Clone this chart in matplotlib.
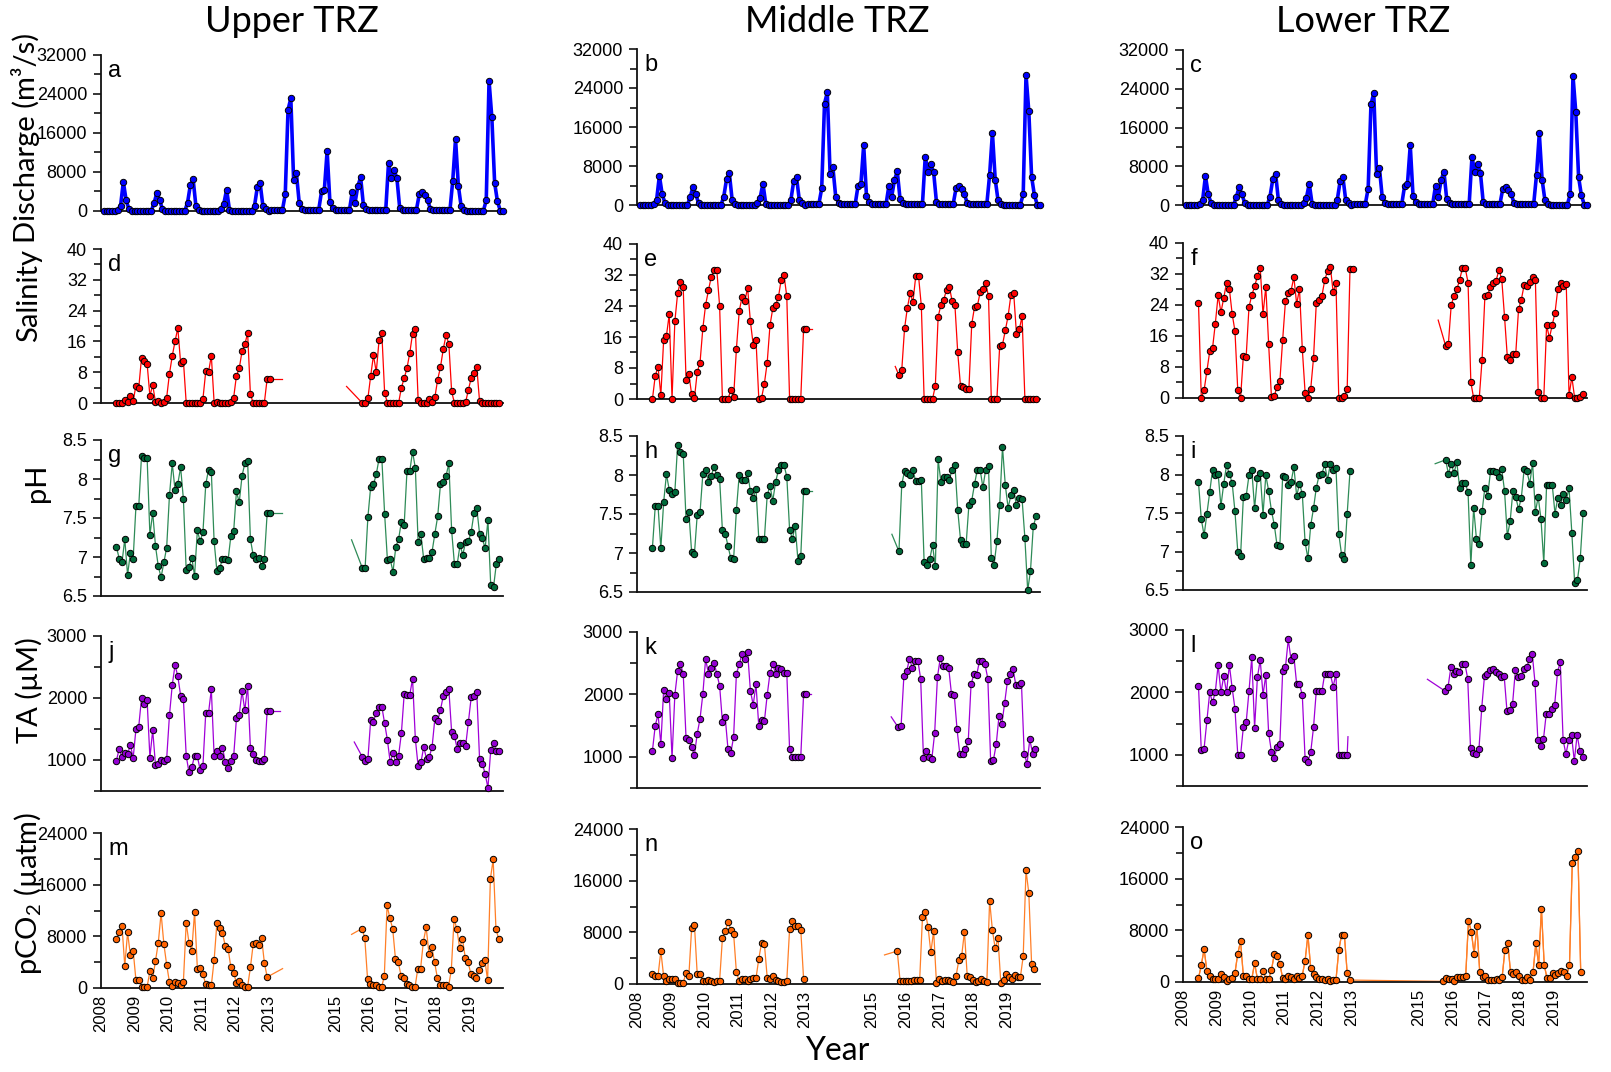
import numpy as np
import matplotlib
matplotlib.use('Agg')
import matplotlib.pyplot as plt
from matplotlib.ticker import MultipleLocator, FuncFormatter

plt.rcParams['font.family'] = ['Lato', 'DejaVu Sans']
plt.rcParams['mathtext.default'] = 'regular'

# ---------------- DATA ----------------
# monthly discharge (m3/s), Jan 2008 - Dec 2019 (same in all three columns)
discharge = (
    [0, 0, 0, 0, 100, 300, 1000, 6000, 2200, 400, 100, 0] +            # 2008
    [0, 0, 0, 0, 0, 0, 1600, 3700, 2200, 400, 100, 0] +                # 2009
    [0, 0, 0, 0, 0, 0, 1700, 5300, 6500, 1000, 300, 0] +               # 2010
    [0, 0, 0, 0, 0, 0, 500, 1500, 4400, 300, 100, 0] +                 # 2011
    [0, 0, 0, 0, 0, 0, 1100, 4900, 5700, 1000, 500, 100] +             # 2012
    [250, 250, 250, 250, 250, 3400, 20800, 23100, 6300, 7700, 1700, 500] +  # 2013
    [300, 300, 300, 300, 300, 300, 4000, 4300, 12300, 1800, 600, 300] +     # 2014
    [200, 200, 200, 200, 200, 3900, 1700, 5100, 6900, 1200, 500, 300] +     # 2015
    [300, 300, 300, 300, 200, 200, 9900, 6800, 8400, 6700, 600, 300] +      # 2016
    [300, 300, 300, 300, 300, 3400, 3800, 3200, 2200, 400, 300, 300] +      # 2017
    [300, 300, 300, 300, 200, 6200, 14800, 5200, 1000, 300, 0, 0] +         # 2018
    [0, 0, 0, 0, 100, 2200, 26700, 19200, 5800, 2000, 100, 0]               # 2019
)
discharge_start = 2008 + 1 / 12

# Salinity
sal_upper_1 = [0, 0, 0.1, 0.8, 0.2, 1.7, 0.5, 4.5, 3.9, 11.8, 11, 10.2, 1.8, 4.7, 0.2, 0.4, 0.1, 0.2, 1.4, 7.6,
               12.2, 16, 19.5, 10.4, 11, 0, 0, 0, 0, 0, 0, 1.1, 8.2, 8, 12.3, 0.1, 0.3, 0.1, 0, 0,
               0.1, 0.2, 1.4, 7.1, 9, 13.4, 15.2, 18.2, 2.3, 0, 0, 0, 0, 0.1, 6.3, 6.3]
sal_upper_2 = [0, 0, 1.2, 7, 12.4, 8, 16.3, 18.1, 2.6, 0, 0, 0, 0, 0, 4, 6.4, 9, 13, 18, 19.3,
               0.8, 0.1, 0, 0.1, 1, 0.2, 1.5, 6.1, 9.3, 14, 17.6, 15.4, 3, 0, 0, 0, 0.1, 0.2, 3.4, 6.5,
               7.8, 9.3, 0.5, 0, 0, 0, 0, 0, 0, 0]
sal_middle_1 = [0, 6, 8.3, 1, 15.2, 16.3, 21.9, 0, 20, 27.3, 30.3, 28.8, 5, 6.5, 1.2, 0.2, 6.9, 9.4, 18.2, 24.3,
                28, 31.5, 33.2, 33.2, 24, 0, 0, 0, 2.3, 0.4, 12.9, 22.6, 26.3, 25.2, 28.7, 20, 14, 15.2, 0.1, 0.3,
                4, 9.4, 19, 23.4, 24.3, 26.2, 30.8, 32, 26.5, 0, 0, 0, 0, 0.1, 18, 18]
sal_middle_2 = [6.1, 7.4, 18.2, 23.5, 27.3, 25, 31.7, 31.7, 24, 0, 0, 0, 0, 3.4, 21.2, 24.3, 25.6, 28.2, 29, 25.3,
                24.2, 12, 3.3, 3, 2.6, 2.6, 19.3, 23.7, 23.9, 27.5, 28.5, 30, 26.5, 0, 0, 0, 13.8, 14, 17.7, 21.4,
                26.8, 27.3, 16.7, 18, 21.3, 0, 0, 0, 0, 0]
sal_lower_1 = [24.6, 0, 2, 7, 12, 12.8, 19.2, 26.5, 22.1, 25.8, 29.8, 28.2, 21.7, 17.3, 2, 0, 10.9, 10.7, 23.5, 26.5,
               28.8, 31.4, 33.6, 21.6, 28.7, 14, 0.3, 0.5, 2.9, 4.3, 15, 25, 27, 27.7, 31.2, 24.2, 28.2, 12.7, 1.4, 0,
               2.3, 10.3, 24.6, 25.4, 26.4, 30.4, 32.8, 33.9, 27.3, 29.7, 0, 0.1, 0.6, 2.3, 33.3, 33.3]
sal_lower_2 = [13.5, 14, 24, 26.3, 28, 30.5, 33.5, 33.5, 29.8, 4, 0, 0, 0, 9.9, 26.2, 26.6, 28.7, 29.6, 30.3, 33,
               30.8, 21, 10.6, 9.9, 11.4, 11.4, 22.9, 25.4, 29.2, 28.8, 30, 31.3, 30.5, 1.5, 0, 0, 18.8, 15.5, 18.8, 22,
               28.2, 29.6, 29, 29.5, 0.7, 5.4, 0, 0, 0.2, 1]

# pH
ph_upper_1 = [7.13, 6.98, 6.93, 7.23, 6.77, 7.05, 6.98, 7.65, 7.65, 8.3, 8.27, 8.27, 7.28, 7.57, 7.14, 6.88, 6.74, 6.93, 7.12, 7.79,
              8.2, 7.86, 7.94, 8.15, 7.74, 6.83, 6.87, 6.99, 6.76, 7.34, 7.2, 7.32, 7.93, 8.12, 8.09, 7.2, 6.82, 6.86, 6.97, 6.98,
              6.96, 7.27, 7.33, 7.84, 7.7, 8.04, 8.2, 8.23, 7.23, 7.02, 6.97, 6.99, 6.88, 6.98, 7.56, 7.56]
ph_upper_2 = [6.86, 6.86, 7.51, 7.9, 7.93, 8.06, 8.26, 8.26, 7.55, 6.96, 6.97, 6.81, 7.13, 7.23, 7.45, 7.41, 8.1, 8.1, 8.35, 8.14,
              7.19, 7.29, 6.97, 6.99, 6.99, 7.07, 7.3, 7.52, 7.93, 7.96, 8.04, 8.2, 7.34, 6.91, 6.91, 7.15, 7.03, 7.19, 7.2, 7.32,
              7.56, 7.63, 7.3, 7.24, 7.11, 7.47, 6.64, 6.61, 6.91, 6.97]
ph_middle_1 = [7.07, 7.6, 7.6, 7.06, 7.65, 8.01, 7.81, 7.76, 7.78, 8.39, 8.29, 8.27, 7.43, 7.53, 7.01, 6.99, 7.49, 7.52, 8.01, 8.07,
               7.91, 7.99, 8.1, 8.0, 7.95, 7.29, 7.25, 7.09, 6.93, 6.92, 7.55, 8.0, 7.94, 7.93, 8.03, 7.79, 7.71, 7.82, 7.18, 7.18,
               7.18, 7.74, 7.86, 7.67, 7.91, 8.06, 8.13, 8.13, 7.98, 7.3, 7.18, 7.35, 6.9, 6.96, 7.79, 7.79]
ph_middle_2 = [7.02, 7.88, 8.05, 8.03, 8.0, 8.06, 7.92, 7.92, 7.93, 6.88, 6.84, 6.92, 7.1, 6.83, 8.2, 7.91, 7.97, 7.97, 7.94, 8.07,
               8.13, 7.55, 7.17, 7.12, 7.11, 7.62, 7.67, 7.88, 8.07, 8.07, 7.84, 8.07, 8.11, 6.94, 6.85, 7.15, 7.62, 8.36, 7.87, 7.58,
               7.74, 7.81, 7.61, 7.7, 7.69, 7.19, 6.52, 6.77, 7.34, 7.47]
ph_lower_1 = [7.9, 7.42, 7.21, 7.49, 7.77, 8.06, 8.0, 8.01, 7.59, 7.88, 8.12, 8.01, 7.89, 7.52, 7.0, 6.94, 7.71, 7.72, 7.99, 8.06,
              7.56, 7.96, 8.02, 7.48, 7.99, 7.79, 7.53, 7.35, 7.08, 7.07, 7.98, 7.97, 7.87, 7.9, 8.1, 7.72, 7.88, 7.75, 7.12, 6.91,
              7.34, 7.56, 7.83, 7.99, 8.01, 8.13, 7.93, 8.14, 8.06, 8.09, 7.23, 6.96, 6.9, 7.49, 8.04]
ph_lower_2 = [8.19, 8.01, 8.14, 8.02, 8.16, 7.83, 7.89, 7.89, 7.77, 6.82, 7.57, 7.16, 7.1, 7.52, 7.83, 7.72, 8.04, 8.04, 8.03, 7.97,
              8.07, 7.79, 7.2, 7.39, 7.79, 7.71, 7.55, 7.7, 8.07, 8.04, 7.88, 8.15, 7.51, 7.71, 7.42, 6.85, 7.87, 7.86, 7.87, 7.49,
              7.7, 7.61, 7.75, 7.67, 7.82, 7.24, 6.59, 6.63, 6.91, 7.5]

# Total alkalinity (uM)
ta_upper_1 = [990, 1180, 1050, 1110, 1090, 1250, 1030, 1500, 1540, 2000, 1900, 1960, 1040, 1480, 920, 930, 1000, 980, 1020, 1720,
              2210, 2530, 2350, 2040, 1980, 1070, 800, 880, 1070, 1060, 840, 910, 1760, 1760, 2140, 1070, 1140, 1060, 1200, 970,
              870, 990, 1060, 1670, 1730, 2110, 1800, 2200, 1200, 1100, 1000, 990, 980, 1020, 1790, 1790]
ta_upper_2 = [1050, 980, 1010, 1640, 1620, 1760, 1860, 1860, 1590, 1320, 960, 1110, 960, 1070, 1430, 2060, 2050, 2050, 2310, 1340,
              900, 960, 1210, 1020, 1050, 1210, 1670, 1630, 1810, 2030, 2100, 2140, 1450, 1390, 1180, 1280, 1280, 1220, 1610, 2010,
              2040, 2100, 1020, 940, 780, 550, 1160, 1270, 1150, 1140]
ta_middle_1 = [1100, 1500, 1680, 1200, 2070, 1920, 2020, 980, 1990, 2380, 2490, 2330, 1300, 1270, 1150, 1030, 1370, 1610, 2000, 2570,
               2330, 2420, 2510, 2330, 2140, 1560, 1630, 1120, 1060, 1320, 2330, 2480, 2650, 2570, 2680, 2060, 1830, 2160, 1490, 1590,
               1570, 1990, 2340, 2480, 2330, 2430, 2400, 2350, 2350, 1120, 990, 990, 1000, 1000, 2000, 2000]
ta_middle_2 = [1470, 1490, 2290, 2370, 2570, 2430, 2540, 2540, 2250, 980, 1100, 990, 970, 1380, 2280, 2580, 2450, 2450, 2430, 2010,
               1990, 1440, 1040, 1050, 1120, 1250, 2160, 2320, 2310, 2530, 2530, 2480, 2250, 940, 950, 1200, 1660, 1520, 1860, 2210,
               2330, 2410, 2150, 2150, 2190, 1050, 890, 1280, 1050, 1120]
ta_lower_1 = [2100, 1070, 1100, 1550, 2000, 1840, 2010, 2440, 2000, 2260, 2000, 2440, 2070, 1740, 1000, 990, 1450, 1520, 2020, 2570,
              1430, 2240, 2520, 1960, 2280, 1350, 1050, 950, 1120, 1170, 2340, 2400, 2850, 2520, 2580, 2130, 2130, 1960, 940, 890,
              1040, 1440, 2030, 2020, 2020, 2300, 2300, 2300, 2090, 2300, 990, 990, 1000, 1000]
ta_lower_2 = [2020, 2090, 2400, 2290, 2340, 2320, 2460, 2460, 2220, 1110, 1030, 1010, 1090, 1750, 2270, 2290, 2360, 2370, 2320, 2300,
              2240, 2260, 1700, 1710, 1820, 2360, 2250, 2260, 2380, 2400, 2530, 2620, 2150, 1240, 1140, 1250, 1660, 1650, 1730, 1800,
              2320, 2490, 1240, 1010, 1230, 1310, 900, 1320, 1060, 960]

# pCO2 (uatm)
pco2_upper_1 = [7600, 8600, 9600, 3400, 8600, 5100, 5800, 1200, 1300, 200, 200, 200, 2600, 1500, 4200, 7000, 11600, 6800, 3600, 900,
                300, 900, 700, 400, 1000, 10100, 7000, 5800, 11800, 3000, 3100, 2100, 600, 400, 400, 4300, 10100, 9300, 8500, 6500,
                6100, 3200, 2300, 800, 1100, 400, 200, 200, 3200, 6800, 7000, 6600, 7800, 3900, 1700]
pco2_upper_2 = [9200, 7800, 1400, 600, 400, 400, 200, 100, 1800, 12800, 10800, 9200, 4500, 4000, 1900, 1500, 600, 500, 100, 100,
                3000, 3000, 7200, 9400, 5300, 6400, 4000, 1600, 500, 500, 400, 200, 2800, 10700, 9100, 6200, 7600, 4700, 4000, 2200,
                1800, 1500, 2800, 3800, 4400, 1200, 16900, 19900, 9100, 7600]
pco2_middle_1 = [1500, 1300, 1300, 5100, 1200, 400, 800, 800, 800, 200, 200, 200, 1700, 1200, 8600, 9200, 1500, 1500, 400, 400,
                 600, 400, 300, 400, 500, 7100, 8200, 9600, 8400, 7800, 1800, 500, 700, 700, 500, 800, 1000, 900, 3900, 6400,
                 6200, 1000, 800, 1300, 600, 400, 300, 300, 500, 8500, 9700, 9000, 9000, 8400, 800]
pco2_middle_2 = [5100, 500, 400, 400, 500, 400, 600, 600, 600, 10300, 11200, 8800, 4900, 8200, 200, 700, 500, 600, 600, 400,
                 300, 1200, 3700, 4300, 8100, 1200, 1100, 600, 300, 400, 800, 400, 300, 12900, 8300, 5500, 7100, 100, 600, 1500,
                 1100, 800, 1400, 1100, 1100, 4300, 17600, 14100, 3100, 2300]
pco2_lower_1 = [600, 2600, 5100, 1700, 1000, 400, 400, 500, 1300, 700, 200, 400, 600, 1400, 4400, 6300, 900, 900, 500, 500,
                2900, 500, 500, 1700, 500, 500, 1800, 4300, 4000, 2800, 600, 500, 900, 700, 400, 1000, 600, 1000, 3300, 7300,
                2100, 1200, 700, 400, 400, 300, 500, 200, 300, 300, 4900, 7300, 7300, 1400, 300]
pco2_lower_2 = [100, 600, 400, 500, 200, 800, 700, 700, 900, 9500, 7800, 4400, 8600, 1600, 700, 1000, 300, 300, 300, 400,
                300, 800, 5000, 6000, 1500, 1300, 1600, 1000, 300, 300, 700, 300, 1500, 6000, 2700, 11300, 2600, 600, 600, 1400,
                1100, 1400, 1700, 1600, 1000, 2700, 18500, 19400, 20300, 1500]

# start time (decimal year) of each monthly sampling segment
seg1_start = 2008.46
seg2_start = {'d': 2015.80, 'e': 2015.80, 'f': 2015.80, 'g': 2015.80, 'h': 2015.80, 'i': 2015.80,
              'j': 2015.80, 'k': 2015.78, 'l': 2015.79, 'm': 2015.79, 'n': 2015.75, 'o': 2015.73}
# line stubs running into the sampling gap: (year, value)
trail_pt = {'d': (2013.39, 6.3), 'e': (2013.21, 18), 'g': (2013.39, 7.56), 'h': (2013.21, 7.79),
            'j': (2013.34, 1790), 'k': (2013.19, 2000), 'l': (2012.90, 1290), 'm': (2013.42, 3000)}
lead_pt = {'d': (2015.33, 4.3), 'e': (2015.69, 8.4), 'f': (2015.58, 20.1), 'g': (2015.48, 7.22),
           'h': (2015.59, 7.24), 'i': (2015.49, 8.14), 'j': (2015.56, 1290), 'k': (2015.57, 1640),
           'l': (2015.26, 2210), 'm': (2015.48, 8300), 'n': (2015.37, 4500)}
bridge_gap = {'o'}

col_titles = ['Upper TRZ', 'Middle TRZ', 'Lower TRZ']
row_labels = ['Discharge (m³/s)', 'Salinity', 'pH', 'TA (µM)', 'pCO$_2$ (µatm)']
year_ticks = [2008, 2009, 2010, 2011, 2012, 2013, 2015, 2016, 2017, 2018, 2019]
panel_letters = [['a', 'b', 'c'], ['d', 'e', 'f'], ['g', 'h', 'i'], ['j', 'k', 'l'], ['m', 'n', 'o']]

series = {
    1: [(sal_upper_1, sal_upper_2), (sal_middle_1, sal_middle_2), (sal_lower_1, sal_lower_2)],
    2: [(ph_upper_1, ph_upper_2), (ph_middle_1, ph_middle_2), (ph_lower_1, ph_lower_2)],
    3: [(ta_upper_1, ta_upper_2), (ta_middle_1, ta_middle_2), (ta_lower_1, ta_lower_2)],
    4: [(pco2_upper_1, pco2_upper_2), (pco2_middle_1, pco2_middle_2), (pco2_lower_1, pco2_lower_2)],
}

# ---------------- STYLE / LAYOUT ----------------
W, H = 1611, 1072
fig = plt.figure(figsize=(W / 100, H / 100), dpi=100)

col_lr = [(101, 503), (637, 1040), (1183, 1587)]
row_tb = [
    [(55, 211), (249, 403), (440, 596), (636, 791), (833, 988)],
    [(49, 205), (244, 399), (436, 592), (632, 788), (829, 984)],
    [(50, 205), (243, 398), (436, 590), (630, 786), (827, 982)],
]
ylims = [(0, 32000), (0, 40), (6.5, 8.5), (500, 3000), (0, 24000)]
ymajor = [8000, 8, 0.5, 1000, 8000]
yminor = [4000, 4, 0.25, 500, 4000]
line_col = [None, '#FF0000', '#2E8B57', '#A000D8', '#FF7F27']
face_col = [None, '#FF0000', '#006A3A', '#9400D3', '#FF6200']

TICKFAMILY = 'Liberation Sans'
YTICKSIZE = 13
XTICKSIZE = 12
ms, mew = 4.6, 0.7

for c in range(3):
    for r in range(5):
        l, rr = col_lr[c]
        t, b = row_tb[c][r]
        ax = fig.add_axes([l / W, 1 - b / H, (rr - l) / W, (b - t) / H])
        letter = panel_letters[r][c]
        if r == 0:
            tt = discharge_start + np.arange(len(discharge)) / 12
            ax.plot(tt, discharge, color='#0000FF', lw=2.6, marker='o', ms=ms,
                    mfc='#0000FF', mec='black', mew=mew, clip_on=False, zorder=3)
        else:
            s1, s2 = series[r][c]
            t1 = seg1_start + np.arange(len(s1)) / 12
            t2 = seg2_start[letter] + np.arange(len(s2)) / 12
            lc, fc = line_col[r], face_col[r]
            if letter in bridge_gap:
                ax.plot(np.r_[t1, t2], np.r_[s1, s2], color=lc, lw=0.9, zorder=2, clip_on=False)
            if letter in trail_pt:
                tp = trail_pt[letter]
                ax.plot([t1[-1], tp[0]], [s1[-1], tp[1]], color=lc, lw=0.9, zorder=2)
            if letter in lead_pt:
                lp = lead_pt[letter]
                ax.plot([lp[0], t2[0]], [lp[1], s2[0]], color=lc, lw=0.9, zorder=2)
            for tt, ss in ((t1, s1), (t2, s2)):
                ax.plot(tt, ss, color=lc, lw=0.9, marker='o', ms=ms, mfc=fc,
                        mec='black', mew=mew, clip_on=False, zorder=3)
        ax.set_xlim(2008, 2020)
        ax.set_ylim(*ylims[r])
        ax.yaxis.set_major_locator(MultipleLocator(ymajor[r]))
        ax.yaxis.set_minor_locator(MultipleLocator(yminor[r]))
        ax.yaxis.set_major_formatter(FuncFormatter(lambda v, p: '%g' % v))
        for sp in ('top', 'right'):
            ax.spines[sp].set_visible(False)
        for sp in ('left', 'bottom'):
            ax.spines[sp].set_linewidth(1.3)
            ax.spines[sp].set_color('#111111')
        ax.tick_params(axis='y', which='major', length=6, width=1.1, pad=4, direction='out',
                       labelsize=YTICKSIZE, labelfontfamily=TICKFAMILY)
        ax.tick_params(axis='y', which='minor', length=5, width=1.1, direction='out')
        ax.set_xticks(year_ticks)
        ax.tick_params(axis='x', length=0, pad=5, labelsize=XTICKSIZE, labelfontfamily=TICKFAMILY,
                       labelrotation=90)
        if r == 4:
            ax.set_xticklabels([str(y) for y in year_ticks])
        else:
            ax.set_xticklabels([])
        ax.patch.set_visible(False)
        ax.text(0.018, 0.965, letter, transform=ax.transAxes, ha='left', va='top',
                fontsize=17, fontfamily='Liberation Sans')

# column titles
for x, txt in zip([292, 837, 1363], col_titles):
    fig.text(x / W, 1 - 21 / H, txt, ha='center', va='center', fontsize=26)

# row labels
for (x, y), txt in zip([(26, 138), (29, 296), (37, 483), (29, 690), (28, 893)], row_labels):
    fig.text(x / W, 1 - y / H, txt, ha='center', va='center', rotation=90, fontsize=21)

fig.text(837 / W, 1 - 1051 / H, 'Year', ha='center', va='center', fontsize=23)

fig.savefig('out.png', dpi=100)
